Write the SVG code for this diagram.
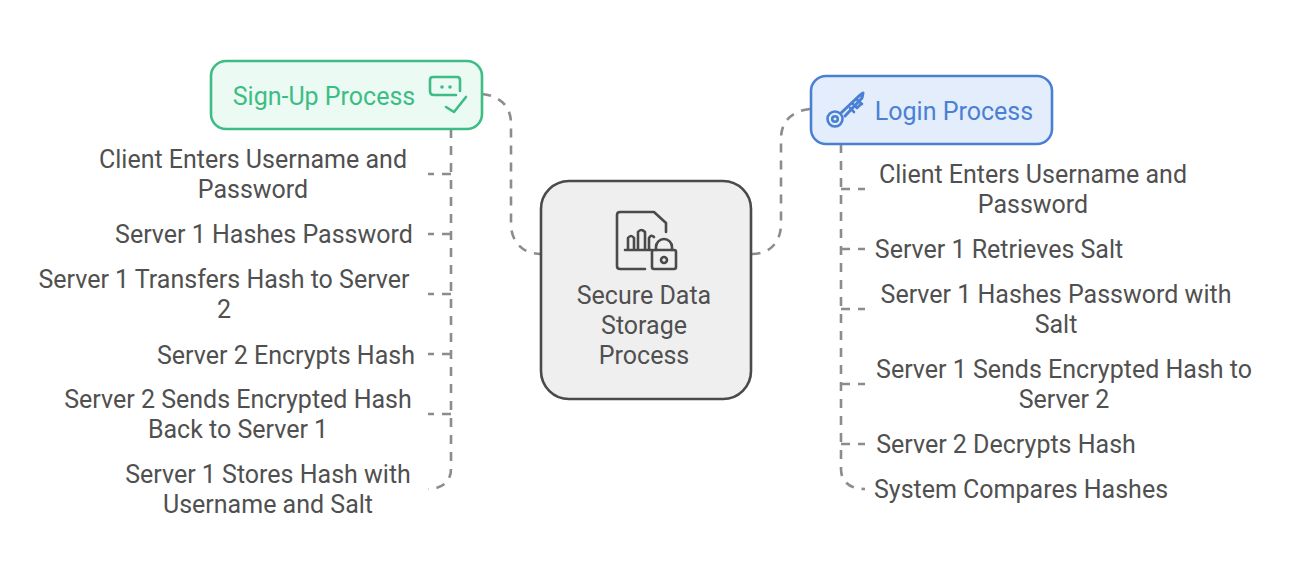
<svg xmlns="http://www.w3.org/2000/svg" width="1293" height="580" viewBox="0 0 1293 580">
<style>
text{font-family:Roboto,"Liberation Sans",sans-serif;font-size:25px;fill:#505050;text-anchor:middle}
.c{fill:none;stroke:#8c8c8c;stroke-width:2.6;stroke-dasharray:9 8}
.i{fill:none;stroke-width:2.6;stroke-linecap:round;stroke-linejoin:round}
</style>
<rect width="1293" height="580" fill="#fff"/>
<g id="connectors">
<path class="c" d="M482 94C500 96 511 106 511 124V224C511 242 523 254 541 254"/>
<path class="c" d="M810 109C792 111 781 121 781 139V224C781 242 770 254 752 254"/>
<path class="c" d="M451 129V469C451 481 443 489 428 489"/>
<path class="c" d="M841 144V469C841 481 849 489 865 489"/>
<path class="c" d="M451 174H428M451 234H428M451 294H428M451 354H428M451 414H428"/>
<path class="c" d="M841 189H865M841 249H865M841 309H865M841 384H865M841 444H865"/>
</g>
<g id="signup">
<rect x="211" y="61" width="271" height="68" rx="15" fill="#ebfaf3" stroke="#3dbd85" stroke-width="2.6"/>
<text x="324" y="104.6" style="fill:#3dbd85">Sign-Up Process</text>
<g class="i" stroke="#3dbd85">
<path d="M460 91V80Q460 77 457 77H433Q430 77 430 80V91Q430 95 434 95H456"/>
<path d="M446 107L454 112L466 97"/>
</g>
<circle cx="442" cy="87" r="1.8" fill="#3dbd85"/><circle cx="450" cy="87" r="1.8" fill="#3dbd85"/>
</g>
<g id="login">
<rect x="811" y="76" width="241" height="68" rx="15" fill="#e4edfc" stroke="#4a80d4" stroke-width="2.6"/>
<text x="954" y="119.6" style="fill:#4a80d4">Login Process</text>
<g class="i" stroke="#4a80d4">
<circle cx="835" cy="119" r="7.5"/><circle cx="835" cy="119" r="2.8"/>
<path d="M841 113L859 96L863 93L862 98L845 116" stroke-width="3"/>
<path d="M852 103L857 108L861 104M856 99L862 104M850 108L854 112"/>
</g>
</g>
<g id="center">
<rect x="541" y="181" width="210" height="218" rx="28" fill="#efefef" stroke="#4a4a4a" stroke-width="2.6"/>
<g class="i" stroke="#4a4a4a">
<path d="M645 269H620Q617 269 617 266V215Q617 212 620 212H654L666 223V232"/>
<path d="M625 250H652M628 250V238Q631 234 634 238V250M638 250V232Q641 228 645 232V250M649 250V238Q651 234 654 237"/>
<rect x="652" y="250" width="24" height="19" rx="2"/>
<path d="M656 250V247A8 8 0 0 1 672 247V250"/>
<circle cx="664" cy="260" r="3"/>
</g>
<text x="644" y="303.5">Secure Data</text><text x="644" y="333.5">Storage</text><text x="644" y="363.5">Process</text>
</g>
<g id="s1"><text x="253" y="168">Client Enters Username and</text><text x="253" y="198">Password</text></g>
<g id="s2"><text x="264" y="243">Server 1 Hashes Password</text></g>
<g id="s3"><text x="224" y="288">Server 1 Transfers Hash to Server</text><text x="224" y="318">2</text></g>
<g id="s4"><text x="286" y="363.5">Server 2 Encrypts Hash</text></g>
<g id="s5"><text x="238" y="408">Server 2 Sends Encrypted Hash</text><text x="238" y="438">Back to Server 1</text></g>
<g id="s6"><text x="268" y="483">Server 1 Stores Hash with</text><text x="268" y="513">Username and Salt</text></g>
<g id="l1"><text x="1033" y="183">Client Enters Username and</text><text x="1033" y="213">Password</text></g>
<g id="l2"><text x="999" y="258">Server 1 Retrieves Salt</text></g>
<g id="l3"><text x="1056" y="303">Server 1 Hashes Password with</text><text x="1056" y="333">Salt</text></g>
<g id="l4"><text x="1064" y="378">Server 1 Sends Encrypted Hash to</text><text x="1064" y="408">Server 2</text></g>
<g id="l5"><text x="1006" y="453">Server 2 Decrypts Hash</text></g>
<g id="l6"><text x="1021" y="498">System Compares Hashes</text></g>
</svg>
